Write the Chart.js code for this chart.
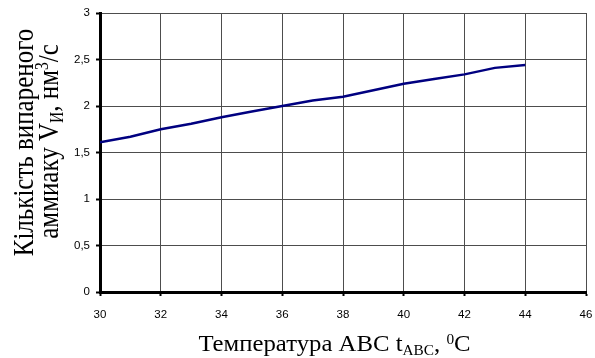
<!DOCTYPE html>
<html>
<head>
<meta charset="utf-8">
<script src="https://cdn.jsdelivr.net/npm/chart.js@4/dist/chart.umd.min.js"></script>
<style>
  html, body { margin: 0; padding: 0; background: #fff; }
  #wrap { position: relative; width: 595px; height: 358px; overflow: hidden; }
  canvas { position: absolute; left: 0; top: 0; }
  .ttl { position: absolute; left: 0; top: 0; transform-origin: 0 0; white-space: nowrap;
         font-family: "Liberation Serif", "Times New Roman", serif; line-height: 28px; color: #000; }
  #xt { font-size: 22.5px; }
  #yt1, #yt2 { font-size: 25px; }
  .sub { font-size: 0.62em; position: relative; top: 0.28em; line-height: 0; }
  .sup { font-size: 0.62em; position: relative; top: -0.5em; line-height: 0; }
</style>
</head>
<body>
<div id="wrap">
  <canvas id="c" width="595" height="358"></canvas>
  <div class="ttl" id="xt">Температура АВС t<span class="sub">АВС</span>, <span class="sup">0</span>С</div>
  <div class="ttl" id="yt1">Кількість випареного</div>
  <div class="ttl" id="yt2">аммиаку V<span class="sub">И</span>, нм<span class="sup">3</span>/с</div>
</div>
<script>
// Data
const temperatures = [30, 31, 32, 33, 34, 35, 36, 37, 38, 39, 40, 41, 42, 43, 44];
const ammoniaValues = [1.61, 1.67, 1.75, 1.81, 1.88, 1.94, 2.00, 2.06, 2.10, 2.17, 2.24, 2.29, 2.34, 2.41, 2.44];
const xTickValues = [30, 32, 34, 36, 38, 40, 42, 44, 46];
const yTickValues = [0, 0.5, 1, 1.5, 2, 2.5, 3];

const points = temperatures.map((t, i) => ({ x: t, y: ammoniaValues[i] }));

// Title placement (rotated / stretched like the reference)
function place(id, cx, cy, sx, rot) {
  const el = document.getElementById(id);
  el.style.transform = `translate(${cx}px, ${cy}px) scaleX(${sx}) ${rot ? 'rotate(-90deg)' : ''} translate(-50%, -50%)`;
}
place('xt', 334.5, 344.4, 1.1, false);
place('yt1', 23.4, 142.5, 1.2, true);
place('yt2', 48.4, 141.5, 1.2, true);

const tickFont = { family: "'Liberation Sans', Arial, sans-serif", size: 11.5 };

new Chart(document.getElementById('c'), {
  type: 'line',
  data: {
    datasets: [{
      data: points,
      borderColor: '#000080',
      borderWidth: 2.5,
      pointRadius: 0,
      tension: 0,
      fill: false
    }]
  },
  options: {
    responsive: false,
    animation: false,
    layout: { padding: { top: 13, right: 9, left: 0, bottom: 0 } },
    plugins: { legend: { display: false }, tooltip: { enabled: false } },
    scales: {
      x: {
        type: 'linear',
        min: xTickValues[0],
        max: xTickValues[xTickValues.length - 1],
        afterBuildTicks: (s) => { s.ticks = xTickValues.map(v => ({ value: v })); },
        afterFit: (s) => { s.height = 66; s.paddingLeft = 0; s.paddingRight = 0; },
        ticks: { color: '#000', font: tickFont, padding: 12, maxRotation: 0 },
        grid: { color: '#4d4d4d', lineWidth: 1, tickLength: 4, tickColor: '#000', tickWidth: 2 },
        border: { display: true, color: '#000', width: 3 }
      },
      y: {
        min: yTickValues[0],
        max: yTickValues[yTickValues.length - 1],
        afterBuildTicks: (s) => { s.ticks = yTickValues.map(v => ({ value: v })); },
        afterFit: (s) => { s.width = 100; s.paddingTop = 0; s.paddingBottom = 0; },
        ticks: {
          color: '#000', font: tickFont, padding: 6,
          callback: (v) => String(v).replace('.', ',')
        },
        grid: { color: '#4d4d4d', lineWidth: 1, tickLength: 4, tickColor: '#000', tickWidth: 2 },
        border: { display: true, color: '#000', width: 3 }
      }
    }
  }
});
</script>
</body>
</html>
